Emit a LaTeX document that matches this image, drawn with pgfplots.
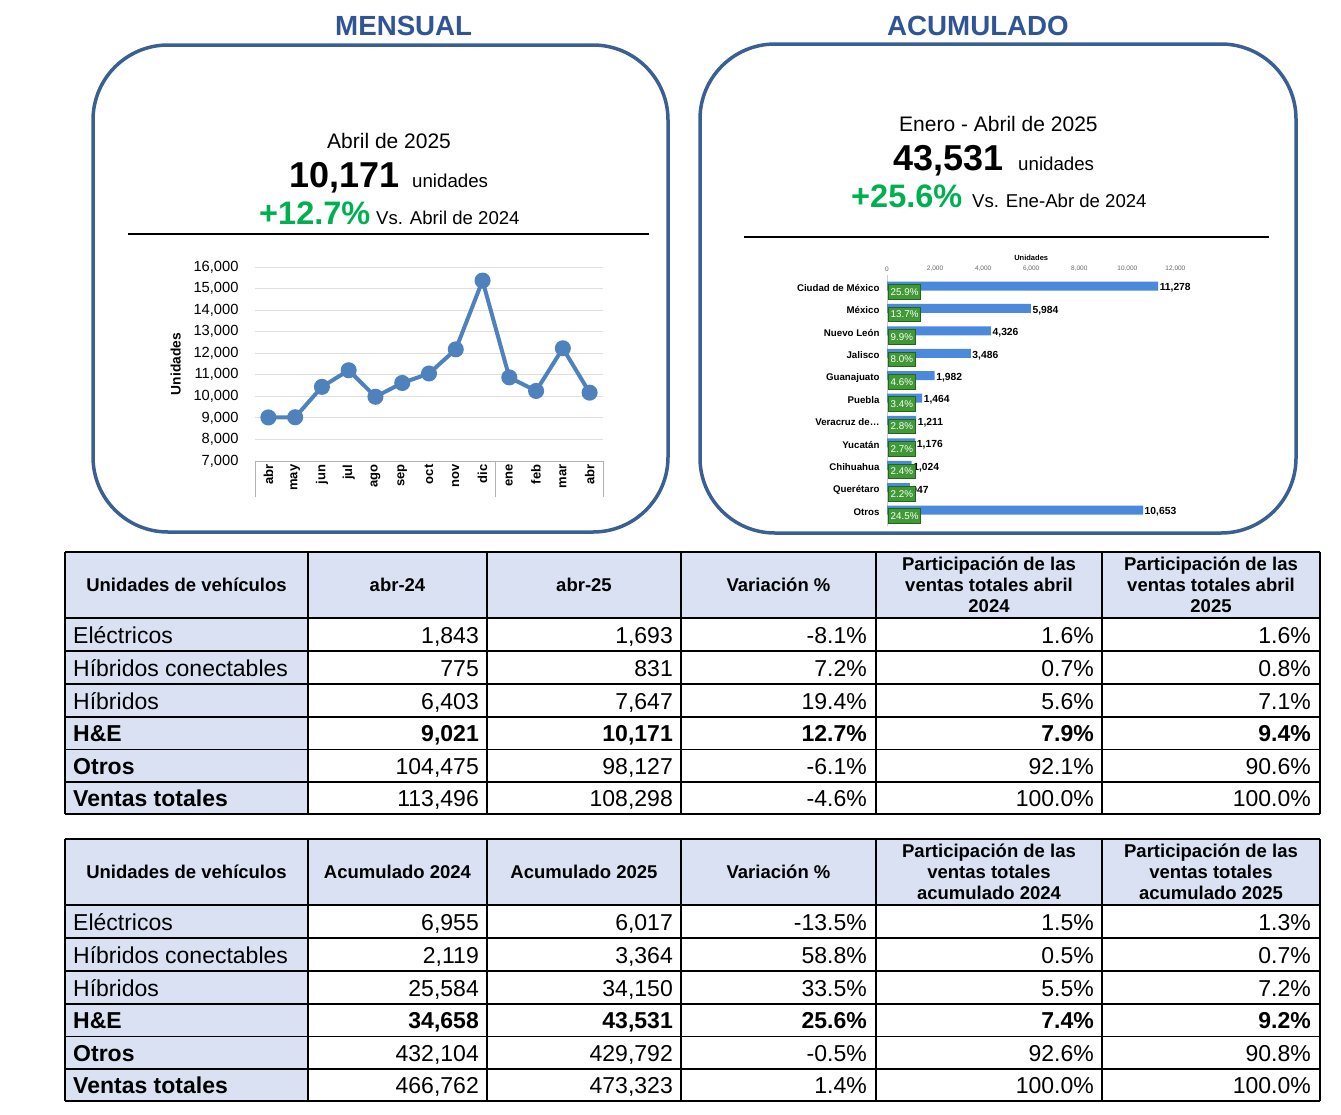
\documentclass[border=0pt]{standalone}
\usepackage{fontspec}
\setmainfont{Liberation Sans}
\usepackage{pgfplots}
\pgfplotsset{compat=1.18}

\definecolor{titleblue}{HTML}{2F5597}
\definecolor{boxblue}{HTML}{3A5F93}
\definecolor{upgreen}{HTML}{00B050}
\definecolor{linecol}{RGB}{79,129,189}
\definecolor{barblue}{RGB}{74,137,220}
\definecolor{pctgreen}{RGB}{63,153,52}
\definecolor{pctdark}{RGB}{38,100,30}
\definecolor{headfill}{HTML}{D9E1F2}

\newcommand\fs[1]{\fontsize{#1}{#1}\selectfont}

% table grid, #1 = top edge
\newcommand\tgrid[1]{%
  \fill[headfill] (65,-#1) rectangle (1320,{-#1-66});
  \fill[headfill] (65,{-#1-66}) rectangle (308,{-#1-262});
  \foreach \d in {0,66,99,132,165,197.5,230,262}
    \draw[line width=1.5] (65,{-#1-\d}) -- (1320,{-#1-\d});
  \foreach \c in {65,308,487,681,876,1102,1320}
    \draw[line width=1.5] (\c,-#1) -- (\c,{-#1-262});
}
% table row, #1 baseline, #2 label font, #3 number font, #4 label, #5-#9 values
\newcommand\trow[9]{%
  \node[anchor=base west,inner sep=0,font=#2] at (73,-#1) {#4};
  \node[anchor=base east,inner sep=0,font=#3] at (479,-#1) {#5};
  \node[anchor=base east,inner sep=0,font=#3] at (673,-#1) {#6};
  \node[anchor=base east,inner sep=0,font=#3] at (867,-#1) {#7};
  \node[anchor=base east,inner sep=0,font=#3] at (1094,-#1) {#8};
  \node[anchor=base east,inner sep=0,font=#3] at (1311,-#1) {#9};
}

\begin{document}
\begin{tikzpicture}[x=1pt,y=1pt]
\path[use as bounding box] (0,0) rectangle (1341,-1114);

% titles and frames
\node[anchor=base west,inner sep=0,font=\bfseries\fs{27.7},text=titleblue] at (335,-35) {MENSUAL};
\node[anchor=base west,inner sep=0,font=\bfseries\fs{27.7},text=titleblue] at (887,-35) {ACUMULADO};
\draw[boxblue,line width=3.5,rounded corners=75] (93,-45) rectangle (668,-532);
\draw[boxblue,line width=3.5,rounded corners=75] (700,-44) rectangle (1296,-533);

% monthly headline
\node[anchor=base west,inner sep=0,font=\fs{21}] at (327,-148) {Abril de 2025};
\node[anchor=base west,inner sep=0,font=\bfseries\fs{36}] at (289,-187) {10,171};
\node[anchor=base west,inner sep=0,font=\fs{18.7}] at (412,-187) {unidades};
\node[anchor=base west,inner sep=0,font=\bfseries\fs{32.5},text=upgreen] at (259,-224) {+12.7\%};
\node[anchor=base west,inner sep=0,font=\fs{18.6}] at (376,-224) {Vs. Abril de 2024};
\draw[line width=1.2] (128,-234) -- (649,-234);

% cumulative headline
\node[anchor=base west,inner sep=0,font=\fs{21}] at (899,-131) {Enero - Abril de 2025};
\node[anchor=base west,inner sep=0,font=\bfseries\fs{36}] at (893,-170) {43,531};
\node[anchor=base west,inner sep=0,font=\fs{18.7}] at (1018,-170) {unidades};
\node[anchor=base west,inner sep=0,font=\bfseries\fs{32.5},text=upgreen] at (851,-207) {+25.6\%};
\node[anchor=base west,inner sep=0,font=\fs{18.6}] at (972,-207) {Vs. Ene-Abr de 2024};
\draw[line width=1.2] (744,-237) -- (1269,-237);

% monthly line chart
\begin{axis}[
  at={(255pt,-461pt)}, anchor=south west,
  scale only axis, width=348pt, height=194pt,
  xmin=-0.5, xmax=12.5, ymin=7000, ymax=16000,
  ytick={7000,8000,...,16000}, scaled y ticks=false,
  xtick={0,...,12},
  xticklabels={abr,may,jun,jul,ago,sep,oct,nov,dic,ene,feb,mar,abr},
  /pgf/number format/.cd, 1000 sep={,}, assume math mode=true, /pgfplots/.cd,
  axis line style={draw=none}, tick style={draw=none},
  ymajorgrids, grid style={gray!25,line width=1},
  yticklabel style={font=\fs{14.7},xshift=-13pt},
  xticklabel style={font=\bfseries\fs{13},rotate=90,anchor=east},
  ylabel={Unidades}, ylabel style={font=\bfseries\fs{13.8}}, ylabel shift=6pt,
  clip=false
]
\addplot[linecol,line width=4,mark=*,mark size=6,mark options={fill=linecol}] coordinates {
  (0,9021) (1,9030) (2,10440) (3,11210) (4,9980) (5,10620) (6,11060)
  (7,12180) (8,15370) (9,10880) (10,10250) (11,12230) (12,10171)
};
\draw[gray!60,line width=1] (axis cs:-0.5,7000) -- (axis cs:12.5,7000);
\draw[gray!60,line width=1] (axis cs:-0.5,7000) -- ++(0pt,-36pt);
\draw[gray!60,line width=1] (axis cs:8.5,7000) -- ++(0pt,-36pt);
\draw[gray!60,line width=1] (axis cs:12.5,7000) -- ++(0pt,-36pt);
\end{axis}

% cumulative bar chart by state
\begin{axis}[
  at={(887pt,-274.6pt)}, anchor=north west,
  scale only axis, width=288.4pt, height=250.9pt,
  xmin=0, xmax=12000, ymin=-0.6, ymax=10.6, y dir=reverse,
  separate axis lines, axis x line*=top, axis y line*=left,
  x axis line style={draw=none}, y axis line style={draw=gray!40},
  tick style={draw=none},
  xtick={0,2000,...,12000}, scaled x ticks=false,
  /pgf/number format/.cd, 1000 sep={,}, assume math mode=true, /pgfplots/.cd,
  xticklabel style={font=\fs{6.5},text=gray!80!black,inner sep=1pt,yshift=2pt},
  xlabel={Unidades}, xlabel style={font=\bfseries\fs{7.5},inner sep=1pt,yshift=3pt},
  ytick={0,...,10},
  yticklabels={Ciudad de México,México,Nuevo León,Jalisco,Guanajuato,Puebla,Veracruz de\ldots,Yucatán,Chihuahua,Querétaro,Otros},
  yticklabel style={font=\bfseries\fs{9.7},xshift=-4pt},
  clip=false
]
\addplot[xbar,bar width=9pt,bar shift=2pt,fill=barblue,draw=none,
  nodes near coords, point meta=x,
  nodes near coords style={font=\bfseries\fs{10.3},anchor=west,inner sep=1.5pt}] coordinates {
  (11278,0) (5984,1) (4326,2) (3486,3) (1982,4) (1464,5)
  (1211,6) (1176,7) (1024,8) (947,9) (10653,10)
};
\addplot[only marks,mark=none,point meta=explicit symbolic,
  nodes near coords,
  nodes near coords style={anchor=west,fill=pctgreen,draw=pctdark,line width=0.8,text=white,
    font=\fs{9.8},inner xsep=2.3pt,inner ysep=3.8pt,xshift=1pt,yshift=-4pt}] coordinates {
  (0,0) [25.9\%] (0,1) [13.7\%] (0,2) [9.9\%] (0,3) [8.0\%] (0,4) [4.6\%] (0,5) [3.4\%]
  (0,6) [2.8\%] (0,7) [2.7\%] (0,8) [2.4\%] (0,9) [2.2\%] (0,10) [24.5\%]
};
\end{axis}

% monthly table
\tgrid{552}
\node[align=center,font=\bfseries\fs{18.5}] at (186.5,-585) {Unidades de vehículos};
\node[align=center,font=\bfseries\fs{18.5}] at (397.5,-585) {abr-24};
\node[align=center,font=\bfseries\fs{18.5}] at (584,-585) {abr-25};
\node[align=center,font=\bfseries\fs{18.5}] at (778.5,-585) {Variación \%};
\node[align=center,font=\bfseries\fontsize{18.5}{21}\selectfont] at (989,-585) {Participación de las\\ventas totales abril\\2024};
\node[align=center,font=\bfseries\fontsize{18.5}{21}\selectfont] at (1211,-585) {Participación de las\\ventas totales abril\\2025};
\trow{643}{\fs{23}}{\fs{23}}{Eléctricos}{1,843}{1,693}{-8.1\%}{1.6\%}{1.6\%}
\trow{676}{\fs{23}}{\fs{23}}{Híbridos conectables}{775}{831}{7.2\%}{0.7\%}{0.8\%}
\trow{709}{\fs{23}}{\fs{23}}{Híbridos}{6,403}{7,647}{19.4\%}{5.6\%}{7.1\%}
\trow{741.5}{\bfseries\fs{23}}{\bfseries\fs{23}}{H\&E}{9,021}{10,171}{12.7\%}{7.9\%}{9.4\%}
\trow{774}{\bfseries\fs{23}}{\fs{23}}{Otros}{104,475}{98,127}{-6.1\%}{92.1\%}{90.6\%}
\trow{806}{\bfseries\fs{23}}{\fs{23}}{Ventas totales}{113,496}{108,298}{-4.6\%}{100.0\%}{100.0\%}

% cumulative table
\tgrid{839}
\node[align=center,font=\bfseries\fs{18.5}] at (186.5,-872) {Unidades de vehículos};
\node[align=center,font=\bfseries\fs{18.5}] at (397.5,-872) {Acumulado 2024};
\node[align=center,font=\bfseries\fs{18.5}] at (584,-872) {Acumulado 2025};
\node[align=center,font=\bfseries\fs{18.5}] at (778.5,-872) {Variación \%};
\node[align=center,font=\bfseries\fontsize{18.5}{21}\selectfont] at (989,-872) {Participación de las\\ventas totales\\acumulado 2024};
\node[align=center,font=\bfseries\fontsize{18.5}{21}\selectfont] at (1211,-872) {Participación de las\\ventas totales\\acumulado 2025};
\trow{930}{\fs{23}}{\fs{23}}{Eléctricos}{6,955}{6,017}{-13.5\%}{1.5\%}{1.3\%}
\trow{963}{\fs{23}}{\fs{23}}{Híbridos conectables}{2,119}{3,364}{58.8\%}{0.5\%}{0.7\%}
\trow{996}{\fs{23}}{\fs{23}}{Híbridos}{25,584}{34,150}{33.5\%}{5.5\%}{7.2\%}
\trow{1028.5}{\bfseries\fs{23}}{\bfseries\fs{23}}{H\&E}{34,658}{43,531}{25.6\%}{7.4\%}{9.2\%}
\trow{1061}{\bfseries\fs{23}}{\fs{23}}{Otros}{432,104}{429,792}{-0.5\%}{92.6\%}{90.8\%}
\trow{1093}{\bfseries\fs{23}}{\fs{23}}{Ventas totales}{466,762}{473,323}{1.4\%}{100.0\%}{100.0\%}

\end{tikzpicture}
\end{document}
